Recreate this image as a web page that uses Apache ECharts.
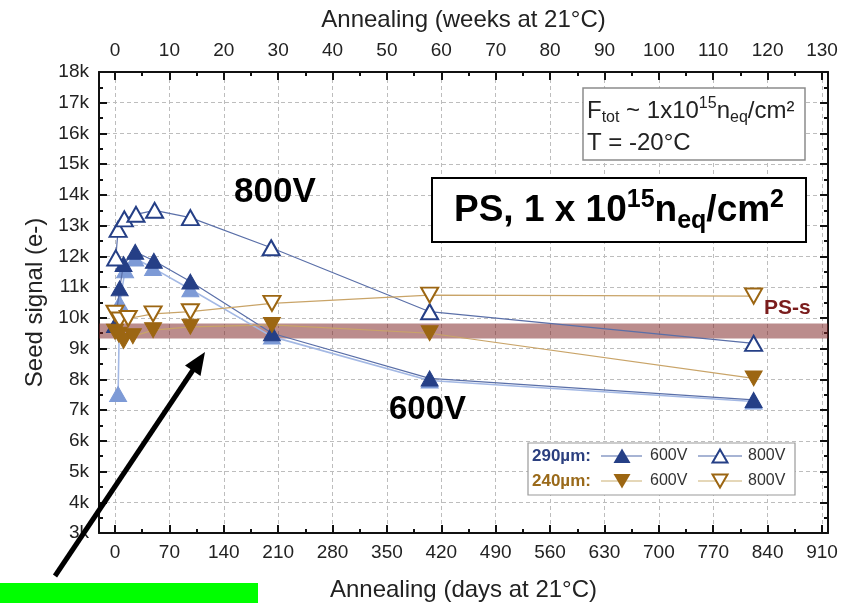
<!DOCTYPE html>
<html>
<head>
<meta charset="utf-8">
<script src="https://cdn.jsdelivr.net/npm/echarts@6/dist/echarts.min.js"></script>
<style>html,body{margin:0;padding:0;background:#fff;}#c{width:859px;height:603px;}</style>
</head>
<body>
<div id="c"></div>
<script>
// ---- data (x: annealing days at 21°C, y: seed signal in e-) ----
const days290_800 = [1, 4, 12, 27, 51, 97, 201, 405, 822];
const sig290_800  = [11950, 12880, 13220, 13370, 13500, 13260, 12280, 10200, 9170];

const days290_600a = [0, 6, 11, 26, 50, 97, 202, 405, 822];
const sig290_600a  = [9770, 10960, 11750, 12150, 11860, 11180, 9500, 8030, 7330];

const days290_600b = [4, 6, 13, 26, 49, 97, 202, 405, 822];
const sig290_600b  = [7520, 10470, 11550, 11930, 11620, 10930, 9390, 7960, 7280];

const days240_600 = [0, 5, 11, 23, 49, 97, 202, 405, 822];
const sig240_600  = [9550, 9450, 9250, 9400, 9600, 9710, 9770, 9500, 8030];

const days240_800 = [0, 6, 17, 49, 97, 202, 405, 822];
const sig240_800  = [10150, 9930, 9980, 10130, 10200, 10470, 10740, 10710];

const psBand = [9330, 9820];

const dayTicks   = [0, 70, 140, 210, 280, 350, 420, 490, 560, 630, 700, 770, 840, 910];
const dayMinor   = [35, 105, 175, 245, 315, 385, 455, 525, 595, 665, 735, 805, 875];
const weekTicks  = [0, 10, 20, 30, 40, 50, 60, 70, 80, 90, 100, 110, 120, 130];
const weekMinor  = [5, 15, 25, 35, 45, 55, 65, 75, 85, 95, 105, 115, 125];

const pairs = (xs, ys) => xs.map((x, i) => [x, ys[i]]);

const FONT = 'Liberation Sans, Arial, sans-serif';
const NAVY = '#253f86';
const NAVY_LINE = '#5a6fa8';
const LIGHT = '#7d9ad6';
const LIGHT_LINE = '#a3b8e4';
const BROWN = '#9c6612';
const BROWN_LINE = '#c9a468';

const dayMin = -20.6, dayMax = 917.7;
const wkMin = dayMin / 7, wkMax = dayMax / 7;

const axisLine = { show: true, onZero: false, lineStyle: { color: '#111', width: 2 } };
const MS = [17, 15];

const chart = echarts.init(document.getElementById('c'), null, { renderer: 'canvas' });

const option = {
  animation: false,
  backgroundColor: '#fff',
  textStyle: { fontFamily: FONT },
  grid: { left: 99, right: 31, top: 72, bottom: 70, containLabel: false, outerBoundsMode: 'none' },
  xAxis: [
    { type: 'value', position: 'bottom', min: dayMin, max: dayMax,
      name: 'Annealing (days at 21°C)', nameLocation: 'middle', nameGap: 45,
      nameTextStyle: { fontSize: 24, color: '#222', fontFamily: FONT },
      axisLine: axisLine,
      axisTick: { show: true, inside: true, length: 8, customValues: dayTicks, lineStyle: { color: '#111', width: 2 } },
      axisLabel: { show: true, customValues: dayTicks, fontSize: 19, color: '#222', margin: 10, fontFamily: FONT },
      splitLine: { show: true, lineStyle: { type: [4, 3], color: '#bdbdbd', width: 1 } } },
    { type: 'value', position: 'bottom', min: dayMin, max: dayMax,
      axisLine: { show: false },
      axisTick: { show: true, inside: true, length: 4, customValues: dayMinor, lineStyle: { color: '#111', width: 2 } },
      axisLabel: { show: false }, splitLine: { show: false } },
    { type: 'value', position: 'top', min: wkMin, max: wkMax,
      name: 'Annealing (weeks at 21°C)', nameLocation: 'middle', nameGap: 40,
      nameTextStyle: { fontSize: 24, color: '#222', fontFamily: FONT },
      axisLine: axisLine,
      axisTick: { show: true, inside: true, length: 8, customValues: weekTicks, lineStyle: { color: '#111', width: 2 } },
      axisLabel: { show: true, customValues: weekTicks, fontSize: 19, color: '#222', margin: 12, fontFamily: FONT },
      splitLine: { show: false } },
    { type: 'value', position: 'top', min: wkMin, max: wkMax,
      axisLine: { show: false },
      axisTick: { show: true, inside: true, length: 4, customValues: weekMinor, lineStyle: { color: '#111', width: 2 } },
      axisLabel: { show: false }, splitLine: { show: false } }
  ],
  yAxis: [
    { type: 'value', position: 'left', min: 3000, max: 18000, interval: 1000,
      name: 'Seed signal (e-)', nameLocation: 'middle', nameGap: 44, nameRotate: 90,
      nameTextStyle: { fontSize: 24, color: '#222', fontFamily: FONT },
      axisLine: axisLine,
      axisTick: { show: true, inside: true, length: 8, lineStyle: { color: '#111', width: 2 } },
      minorTick: { show: true, splitNumber: 2, length: 4, lineStyle: { color: '#111', width: 2 } },
      axisLabel: { fontSize: 19, color: '#222', margin: 10, fontFamily: FONT, formatter: v => (v / 1000) + 'k' },
      splitLine: { show: true, lineStyle: { type: [4, 3], color: '#bdbdbd', width: 1 } } },
    { type: 'value', position: 'right', min: 3000, max: 18000, interval: 1000,
      axisLine: axisLine,
      axisTick: { show: true, inside: true, length: 8, lineStyle: { color: '#111', width: 2 } },
      minorTick: { show: true, splitNumber: 2, length: 4, lineStyle: { color: '#111', width: 2 } },
      axisLabel: { show: false }, splitLine: { show: false } }
  ],
  series: [
    { name: 'PS-s band', type: 'line', xAxisIndex: 0, yAxisIndex: 0, data: [], z: 1,
      markArea: { silent: true, itemStyle: { color: 'rgba(125,35,35,0.52)' },
        data: [[{ yAxis: psBand[0] }, { yAxis: psBand[1] }]] } },
    { name: '290µm 600V (b)', type: 'line', xAxisIndex: 0, yAxisIndex: 0, z: 3,
      data: pairs(days290_600b, sig290_600b),
      symbol: 'triangle', symbolSize: MS,
      lineStyle: { color: LIGHT_LINE, width: 1.6 },
      itemStyle: { color: LIGHT, borderColor: LIGHT, borderWidth: 1 } },
    { name: '290µm 600V', type: 'line', xAxisIndex: 0, yAxisIndex: 0, z: 4,
      data: pairs(days290_600a, sig290_600a),
      symbol: 'triangle', symbolSize: MS,
      lineStyle: { color: NAVY_LINE, width: 1.2 },
      itemStyle: { color: NAVY, borderColor: NAVY, borderWidth: 1 } },
    { name: '290µm 800V', type: 'line', xAxisIndex: 0, yAxisIndex: 0, z: 5,
      data: pairs(days290_800, sig290_800),
      symbol: 'triangle', symbolSize: MS,
      lineStyle: { color: NAVY_LINE, width: 1.2 },
      itemStyle: { color: '#fff', borderColor: NAVY, borderWidth: 2 } },
    { name: '240µm 800V', type: 'line', xAxisIndex: 0, yAxisIndex: 0, z: 6,
      data: pairs(days240_800, sig240_800),
      symbol: 'triangle', symbolRotate: 180, symbolSize: MS,
      lineStyle: { color: BROWN_LINE, width: 1.2 },
      itemStyle: { color: '#fff', borderColor: BROWN, borderWidth: 2 } },
    { name: '240µm 600V', type: 'line', xAxisIndex: 0, yAxisIndex: 0, z: 7,
      data: pairs(days240_600, sig240_600),
      symbol: 'triangle', symbolRotate: 180, symbolSize: MS,
      lineStyle: { color: BROWN_LINE, width: 1.2 },
      itemStyle: { color: BROWN, borderColor: BROWN, borderWidth: 1 } }
  ],
  graphic: [
    // PS-s label
    { type: 'text', z: 100, x: 764, y: 308,
      style: { text: 'PS-s', fontSize: 21, fontWeight: 'bold', fill: '#7a1c1c', verticalAlign: 'middle', fontFamily: FONT } },
    // 800V / 600V labels
    { type: 'text', z: 100, x: 234, y: 192,
      style: { text: '800V', fontSize: 35, fontWeight: 'bold', fill: '#000', verticalAlign: 'middle', fontFamily: FONT } },
    { type: 'text', z: 100, x: 389, y: 410,
      style: { text: '600V', fontSize: 33, fontWeight: 'bold', fill: '#000', verticalAlign: 'middle', fontFamily: FONT } },
    // inset info box
    { type: 'rect', z: 90, shape: { x: 583, y: 88, width: 222, height: 72 },
      style: { fill: '#fff', stroke: '#8c8c8c', lineWidth: 1.5 } },
    { type: 'text', z: 100, x: 587, y: 111,
      style: { text: '{n|F}{sub|tot}{n| ~ 1x10}{sup|15}{n|n}{sub|eq}{n|/cm²}',
        verticalAlign: 'middle', fontFamily: FONT, fill: '#222',
        rich: {
          n: { fontSize: 24, lineHeight: 30, fill: '#222', fontFamily: FONT },
          sub: { fontSize: 16, lineHeight: 30, verticalAlign: 'bottom', fill: '#222', fontFamily: FONT },
          sup: { fontSize: 16, lineHeight: 30, verticalAlign: 'top', fill: '#222', fontFamily: FONT }
        } } },
    { type: 'text', z: 100, x: 587, y: 143,
      style: { text: 'T = -20°C', fontSize: 24, fill: '#222', verticalAlign: 'middle', fontFamily: FONT } },
    // big title box
    { type: 'rect', z: 90, shape: { x: 432, y: 178, width: 374, height: 64 },
      style: { fill: '#fff', stroke: '#000', lineWidth: 2 } },
    { type: 'text', z: 100, x: 619, y: 211,
      style: { text: '{n|PS, 1 x 10}{sup|15}{n|n}{sub|eq}{n|/cm}{sup|2}',
        align: 'center', verticalAlign: 'middle', fontFamily: FONT,
        rich: {
          n: { fontSize: 37, fontWeight: 'bold', lineHeight: 46, fill: '#000', fontFamily: FONT },
          sup: { fontSize: 25, fontWeight: 'bold', lineHeight: 46, verticalAlign: 'top', fill: '#000', fontFamily: FONT },
          sub: { fontSize: 25, fontWeight: 'bold', lineHeight: 46, verticalAlign: 'bottom', fill: '#000', fontFamily: FONT }
        } } },
    // legend box
    { type: 'rect', z: 90, shape: { x: 528, y: 443, width: 267, height: 52 },
      style: { fill: '#fff', stroke: '#9a9a9a', lineWidth: 1.2 } },
    { type: 'text', z: 100, x: 532, y: 456,
      style: { text: '290µm:', fontSize: 17, fontWeight: 'bold', fill: '#2b3f7f', verticalAlign: 'middle', fontFamily: FONT } },
    { type: 'text', z: 100, x: 532, y: 481,
      style: { text: '240µm:', fontSize: 17, fontWeight: 'bold', fill: '#9a6a1a', verticalAlign: 'middle', fontFamily: FONT } },
    { type: 'line', z: 95, shape: { x1: 601, y1: 456, x2: 642, y2: 456 }, style: { stroke: '#8a9bc6', lineWidth: 1.5 } },
    { type: 'line', z: 95, shape: { x1: 698, y1: 456, x2: 742, y2: 456 }, style: { stroke: '#8a9bc6', lineWidth: 1.5 } },
    { type: 'line', z: 95, shape: { x1: 601, y1: 481, x2: 642, y2: 481 }, style: { stroke: '#dccaa0', lineWidth: 1.5 } },
    { type: 'line', z: 95, shape: { x1: 698, y1: 481, x2: 742, y2: 481 }, style: { stroke: '#dccaa0', lineWidth: 1.5 } },
    { type: 'polygon', z: 100, shape: { points: [[622, 448.5], [630.5, 463], [613.5, 463]] }, style: { fill: NAVY } },
    { type: 'polygon', z: 100, shape: { points: [[720, 449.5], [727.5, 462.5], [712.5, 462.5]] }, style: { fill: '#fff', stroke: NAVY, lineWidth: 2 } },
    { type: 'polygon', z: 100, shape: { points: [[613.5, 474], [630.5, 474], [622, 488.5]] }, style: { fill: BROWN } },
    { type: 'polygon', z: 100, shape: { points: [[712.5, 474.5], [727.5, 474.5], [720, 487.5]] }, style: { fill: '#fff', stroke: BROWN, lineWidth: 2 } },
    { type: 'text', z: 100, x: 650, y: 456, style: { text: '600V', fontSize: 16, fill: '#333', verticalAlign: 'middle', fontFamily: FONT } },
    { type: 'text', z: 100, x: 748, y: 456, style: { text: '800V', fontSize: 16, fill: '#333', verticalAlign: 'middle', fontFamily: FONT } },
    { type: 'text', z: 100, x: 650, y: 481, style: { text: '600V', fontSize: 16, fill: '#333', verticalAlign: 'middle', fontFamily: FONT } },
    { type: 'text', z: 100, x: 748, y: 481, style: { text: '800V', fontSize: 16, fill: '#333', verticalAlign: 'middle', fontFamily: FONT } },
    // arrow
    { type: 'line', z: 110, shape: { x1: 55, y1: 576, x2: 193, y2: 370 }, style: { stroke: '#000', lineWidth: 5 } },
    { type: 'polygon', z: 110, shape: { points: [[205, 352], [200.5, 376], [185, 365.5]] }, style: { fill: '#000' } },
    // green box at bottom-left
    { type: 'rect', z: 110, shape: { x: 0, y: 583, width: 258, height: 20 }, style: { fill: '#00ff00' } }
  ]
};
chart.setOption(option);
</script>
</body>
</html>
